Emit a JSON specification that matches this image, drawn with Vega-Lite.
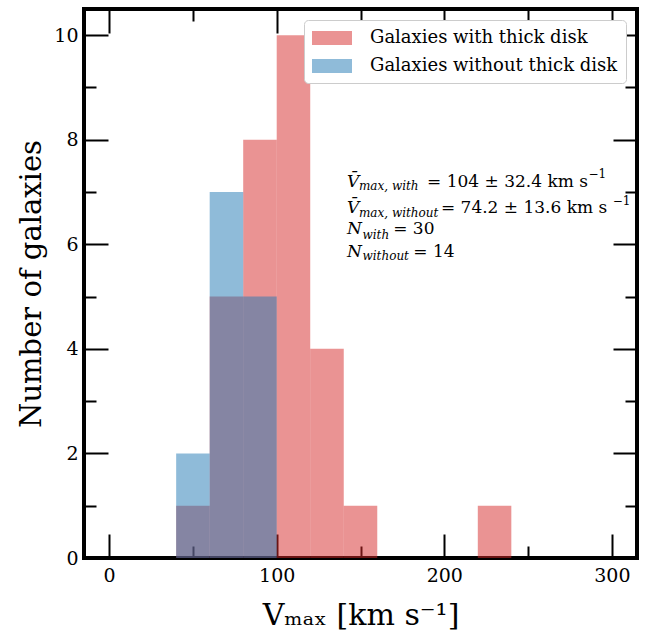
{
  "$schema": "https://vega.github.io/schema/vega-lite/v6.json",
  "width": 553,
  "height": 549,
  "autosize": {"type": "none"},
  "padding": {"left": 84, "top": 9, "right": 18, "bottom": 72},
  "background": "white",
  "config": {
    "view": {"stroke": "black", "strokeWidth": 4},
    "font": "DejaVu Serif",
    "axis": {
      "domain": false, "grid": false, "tickColor": "black", "tickWidth": 2,
      "labelColor": "black", "titleColor": "black",
      "labelFont": "DejaVu Serif", "titleFont": "DejaVu Serif",
      "labelFontSize": 19, "titleFontSize": 30, "titleFontWeight": "normal"
    },
    "legend": {
      "orient": "top-right", "offset": 11, "fillColor": "white", "strokeColor": "#cccccc",
      "cornerRadius": 4, "padding": 8, "symbolType": "M-1,-0.7H3V0.7H-1Z", "symbolSize": 400,
      "symbolOpacity": 0.5, "symbolStrokeWidth": 0, "labelFont": "DejaVu Serif", "labelFontSize": 18,
      "labelOffset": 38, "rowPadding": 9, "labelColor": "black", "labelLimit": 400
    }
  },
  "datasets": {
    "hist": [
      {"group": "Galaxies with thick disk", "lo": 40, "hi": 60, "n": 1},
      {"group": "Galaxies with thick disk", "lo": 60, "hi": 80, "n": 5},
      {"group": "Galaxies with thick disk", "lo": 80, "hi": 100, "n": 8},
      {"group": "Galaxies with thick disk", "lo": 100, "hi": 120, "n": 10},
      {"group": "Galaxies with thick disk", "lo": 120, "hi": 140, "n": 4},
      {"group": "Galaxies with thick disk", "lo": 140, "hi": 160, "n": 1},
      {"group": "Galaxies with thick disk", "lo": 220, "hi": 240, "n": 1},
      {"group": "Galaxies without thick disk", "lo": 40, "hi": 60, "n": 2},
      {"group": "Galaxies without thick disk", "lo": 60, "hi": 80, "n": 7},
      {"group": "Galaxies without thick disk", "lo": 80, "hi": 100, "n": 5}
    ],
    "notes": [
      {"kind": "var", "x": 141.9, "y": 7.10, "t": "V̄"},
      {"kind": "sub", "x": 149.1, "y": 7.03, "t": "max, with"},
      {"kind": "main", "x": 189.7, "y": 7.10, "t": "= 104 ± 32.4 km s"},
      {"kind": "sup", "x": 286.0, "y": 7.26, "t": "−1"},
      {"kind": "var", "x": 141.9, "y": 6.60, "t": "V̄"},
      {"kind": "sub", "x": 149.1, "y": 6.52, "t": "max, without"},
      {"kind": "main", "x": 198.0, "y": 6.60, "t": "= 74.2 ± 13.6 km s"},
      {"kind": "sup", "x": 300.5, "y": 6.76, "t": "−1"},
      {"kind": "var", "x": 141.9, "y": 6.19, "t": "N"},
      {"kind": "sub", "x": 151.2, "y": 6.11, "t": "with"},
      {"kind": "main", "x": 169.5, "y": 6.19, "t": "= 30"},
      {"kind": "var", "x": 141.9, "y": 5.75, "t": "N"},
      {"kind": "sub", "x": 151.2, "y": 5.69, "t": "without"},
      {"kind": "main", "x": 181.5, "y": 5.75, "t": "= 14"}
    ]
  },
  "layer": [
    {
      "data": {"name": "hist"},
      "mark": {"type": "bar", "opacity": 0.5},
      "encoding": {
        "x": {
          "field": "lo", "type": "quantitative",
          "scale": {"domain": [-15, 315], "nice": false, "zero": false},
          "axis": {
            "orient": "bottom", "values": [0, 100, 200, 300], "tickSize": -24,
            "labelPadding": 32, "title": "Vₘₐₓ [km s⁻¹]", "titlePadding": 15
          }
        },
        "x2": {"field": "hi"},
        "y": {
          "field": "n", "type": "quantitative", "stack": null,
          "scale": {"domain": [0, 10.5], "nice": false},
          "axis": {
            "orient": "left", "values": [0, 2, 4, 6, 8, 10], "tickSize": -24,
            "labelPadding": 30, "title": "Number of galaxies", "titlePadding": 7, "titleFontSize": 29
          }
        },
        "y2": {"datum": 0},
        "color": {
          "field": "group", "type": "nominal",
          "scale": {"domain": ["Galaxies with thick disk", "Galaxies without thick disk"], "range": ["#d62728", "#1f77b4"]},
          "legend": {"title": null}
        }
      }
    },
    {
      "data": {"name": "hist"},
      "mark": {"type": "point", "opacity": 0},
      "encoding": {
        "x": {"field": "lo", "type": "quantitative", "axis": {"orient": "bottom", "values": [50, 150, 250], "tickSize": -12, "labels": false, "title": null}},
        "y": {"field": "n", "type": "quantitative", "axis": {"orient": "left", "values": [1, 3, 5, 7, 9], "tickSize": -12, "labels": false, "title": null}}
      }
    },
    {
      "data": {"name": "hist"},
      "mark": {"type": "point", "opacity": 0},
      "encoding": {
        "x": {"field": "lo", "type": "quantitative", "axis": {"orient": "top", "values": [0, 100, 200, 300], "tickSize": -24, "labels": false, "title": null}},
        "y": {"field": "n", "type": "quantitative", "axis": {"orient": "right", "values": [0, 2, 4, 6, 8, 10], "tickSize": -24, "labels": false, "title": null}}
      }
    },
    {
      "data": {"name": "hist"},
      "mark": {"type": "point", "opacity": 0},
      "encoding": {
        "x": {"field": "lo", "type": "quantitative", "axis": {"orient": "top", "values": [50, 150, 250], "tickSize": -12, "labels": false, "title": null}},
        "y": {"field": "n", "type": "quantitative", "axis": {"orient": "right", "values": [1, 3, 5, 7, 9], "tickSize": -12, "labels": false, "title": null}}
      }
    },
    {
      "data": {"name": "notes"},
      "transform": [{"filter": "datum.kind === 'var'"}],
      "mark": {"type": "text", "align": "left", "baseline": "alphabetic", "fontSize": 17, "fontStyle": "italic", "font": "DejaVu Serif", "color": "black"},
      "encoding": {
        "x": {"field": "x", "type": "quantitative", "axis": null},
        "y": {"field": "y", "type": "quantitative", "axis": null},
        "text": {"field": "t"}
      }
    },
    {
      "data": {"name": "notes"},
      "transform": [{"filter": "datum.kind === 'sub'"}],
      "mark": {"type": "text", "align": "left", "baseline": "alphabetic", "fontSize": 12, "fontStyle": "italic", "font": "DejaVu Serif", "color": "black"},
      "encoding": {
        "x": {"field": "x", "type": "quantitative", "axis": null},
        "y": {"field": "y", "type": "quantitative", "axis": null},
        "text": {"field": "t"}
      }
    },
    {
      "data": {"name": "notes"},
      "transform": [{"filter": "datum.kind === 'main'"}],
      "mark": {"type": "text", "align": "left", "baseline": "alphabetic", "fontSize": 17, "font": "DejaVu Serif", "color": "black"},
      "encoding": {
        "x": {"field": "x", "type": "quantitative", "axis": null},
        "y": {"field": "y", "type": "quantitative", "axis": null},
        "text": {"field": "t"}
      }
    },
    {
      "data": {"name": "notes"},
      "transform": [{"filter": "datum.kind === 'sup'"}],
      "mark": {"type": "text", "align": "left", "baseline": "alphabetic", "fontSize": 12, "font": "DejaVu Serif", "color": "black"},
      "encoding": {
        "x": {"field": "x", "type": "quantitative", "axis": null},
        "y": {"field": "y", "type": "quantitative", "axis": null},
        "text": {"field": "t"}
      }
    }
  ],
  "resolve": {"axis": {"x": "independent", "y": "independent"}}
}
